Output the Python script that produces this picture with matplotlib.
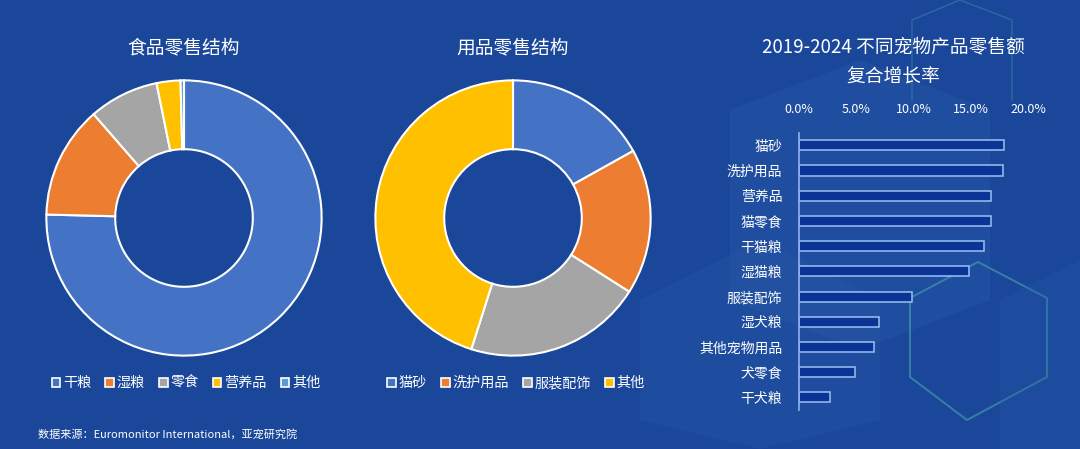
import matplotlib
matplotlib.use("Agg")
import matplotlib.pyplot as plt
from matplotlib.patches import Patch, Polygon
import numpy as np

plt.rcParams['font.family'] = ['Noto Sans CJK SC', 'DejaVu Sans']

# ---- data ----
food_labels = ['干粮', '湿粮', '零食', '营养品', '其他']
food_values = [75.4, 13.2, 8.2, 2.8, 0.4]
food_colors = ['#4472C4', '#ED7D31', '#A5A5A5', '#FFC000', '#5B9BD5']

supply_labels = ['猫砂', '洗护用品', '服装配饰', '其他']
supply_values = [16.9, 17.1, 20.9, 45.1]
supply_colors = ['#4472C4', '#ED7D31', '#A5A5A5', '#FFC000']

cagr_labels = ['猫砂', '洗护用品', '营养品', '猫零食', '干猫粮', '湿猫粮',
               '服装配饰', '湿犬粮', '其他宠物用品', '犬零食', '干犬粮']
cagr_values = [17.9, 17.8, 16.8, 16.75, 16.2, 14.85, 9.87, 7.0, 6.55, 4.86, 2.74]
xticks = [0, 5, 10, 15, 20]
xtick_labels = ['0.0%', '5.0%', '10.0%', '15.0%', '20.0%']

BG = '#1A479A'
W, H = 1080, 449
fig = plt.figure(figsize=(W / 100, H / 100), dpi=100, facecolor=BG)


def px_axes(cx, cy, r):
    return fig.add_axes([(cx - r) / W, (H - cy - r) / H, 2 * r / W, 2 * r / H])


# ---- decorative background shapes ----
bg = fig.add_axes([0, 0, 1, 1], zorder=-10)
bg.set_xlim(0, W)
bg.set_ylim(H, 0)
bg.axis('off')
bg.add_patch(Polygon([[640, 300], [760, 240], [880, 300], [880, 420], [760, 449], [640, 420]],
                     closed=True, facecolor='#2A5BAA', alpha=0.25, edgecolor='none'))
bg.add_patch(Polygon([[730, 110], [860, 60], [990, 110], [990, 300], [860, 350], [730, 300]],
                     closed=True, facecolor='#2E62AE', alpha=0.25, edgecolor='none'))
bg.add_patch(Polygon([[978, 262], [1047, 298], [1047, 377], [967, 420], [910, 377], [910, 298]],
                     closed=True, facecolor='none', edgecolor='#3E8FA8', lw=1.4, alpha=0.8))
bg.add_patch(Polygon([[1000, 300], [1080, 260], [1080, 449], [1000, 449]],
                     closed=True, facecolor='#2455A6', alpha=0.3, edgecolor='none'))
bg.plot([912, 912, 960, 1012, 1012], [100, 20, 0, 20, 100], color='#3E8FA8', lw=1.1, alpha=0.45)

# ---- food donut ----
ax1 = px_axes(184, 218, 139)
ax1.pie(food_values, colors=food_colors, startangle=90, counterclock=False,
        radius=1.0, wedgeprops=dict(width=0.5, edgecolor='white', linewidth=1.5))
ax1.set_xlim(-1.01, 1.01)
ax1.set_ylim(-1.01, 1.01)
ax1.set_aspect('equal')
fig.text(184 / W, 1 - 48 / H, '食品零售结构', color='white', fontsize=13.5,
         ha='center', va='center')

# ---- supplies donut ----
ax2 = px_axes(513, 218, 139)
ax2.pie(supply_values, colors=supply_colors, startangle=90, counterclock=False,
        radius=1.0, wedgeprops=dict(width=0.5, edgecolor='white', linewidth=1.5))
ax2.set_xlim(-1.01, 1.01)
ax2.set_ylim(-1.01, 1.01)
ax2.set_aspect('equal')
fig.text(513 / W, 1 - 48 / H, '用品零售结构', color='white', fontsize=13.5,
         ha='center', va='center')

# ---- legends ----
def make_legend(labels, colors, cx):
    handles = [Patch(facecolor=c, edgecolor='white', linewidth=1.2) for c in colors]
    leg = fig.legend(handles, labels, loc='center', bbox_to_anchor=(cx / W, 1 - 383 / H),
                     ncol=len(labels), frameon=False, fontsize=10.2,
                     handlelength=0.6, handleheight=0.6, handletextpad=0.2,
                     columnspacing=1.0, labelcolor='white')
    return leg

make_legend(food_labels, food_colors, 186)
make_legend(supply_labels, supply_colors, 516)

# ---- CAGR bar chart ----
ax3 = fig.add_axes([799 / W, 39 / H, 229 / W, 277.3 / H])
ax3.set_facecolor('none')
y = np.arange(len(cagr_labels))
ax3.barh(y, cagr_values, height=0.4, color='#0A3597', edgecolor='#9CC0F2', linewidth=1.1)
ax3.set_xlim(0, 20)
ax3.set_ylim(len(cagr_labels) - 0.5, -0.5)
ax3.set_yticks(y)
ax3.set_yticklabels(cagr_labels, color='white', fontsize=10)
ax3.set_xticks(xticks)
ax3.set_xticklabels(xtick_labels, color='white', fontsize=9)
ax3.xaxis.tick_top()
ax3.tick_params(axis='x', length=0, pad=12)
ax3.tick_params(axis='y', length=0, pad=12)
for s in ['top', 'right', 'bottom']:
    ax3.spines[s].set_visible(False)
ax3.spines['left'].set_color('#8FB3EE')
ax3.spines['left'].set_linewidth(1.2)

fig.text(893 / W, 1 - 47 / H, '2019-2024 不同宠物产品零售额', color='white', fontsize=13.5,
         ha='center', va='center')
fig.text(893 / W, 1 - 77 / H, '复合增长率', color='white', fontsize=13.5,
         ha='center', va='center')

# ---- source ----
fig.text(38 / W, 1 - 434 / H, '数据来源：Euromonitor International，亚宠研究院', color='white',
         fontsize=8, ha='left', va='center')

fig.savefig('out.png', dpi=100, facecolor=BG)
